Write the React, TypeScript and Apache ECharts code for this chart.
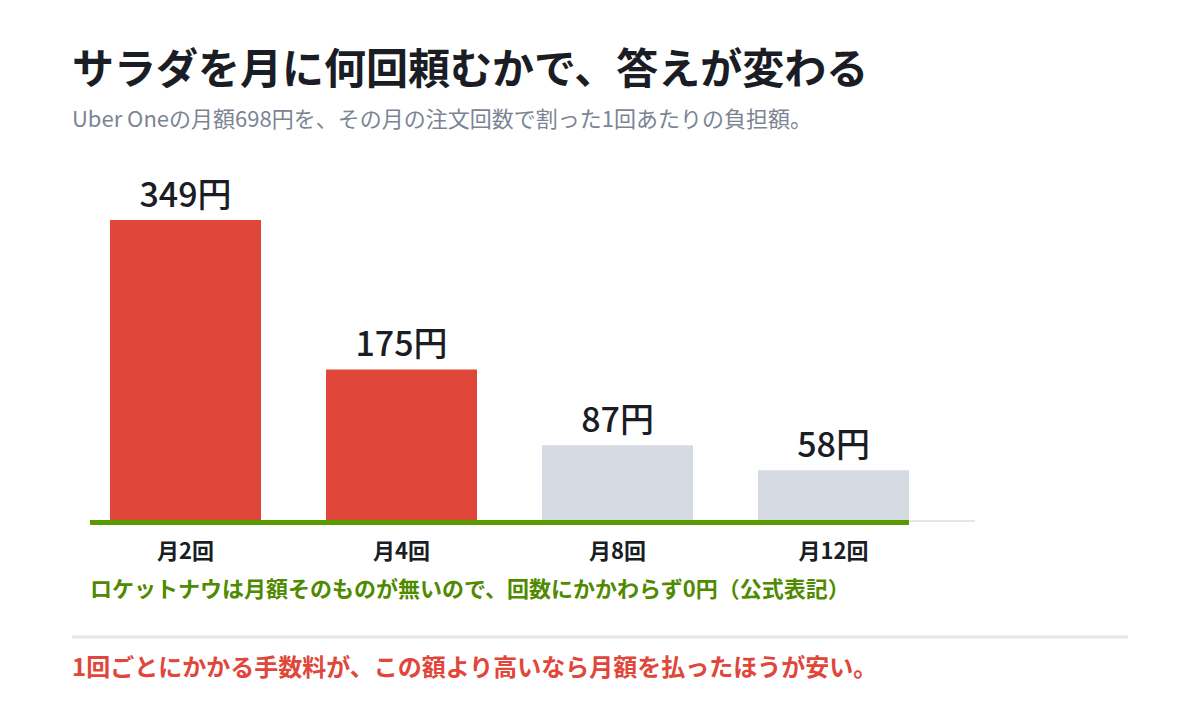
import React, { useEffect, useRef } from "react";
import * as echarts from "echarts";

const categories = ["月2回", "月4回", "月8回", "月12回"];
const values = [349, 175, 87, 58];
const highlighted = [true, true, false, false];
const valueSuffix = "円";

const titleText = "サラダを月に何回頼むかで、答えが変わる";
const subtitleText = "Uber Oneの月額698円を、その月の注文回数で割った1回あたりの負担額。";
const noteText = "ロケットナウは月額そのものが無いので、回数にかかわらず0円（公式表記）";
const footerText = "1回ごとにかかる手数料が、この額より高いなら月額を払ったほうが安い。";

const FONT = "'Noto Sans CJK JP', 'Noto Sans', sans-serif";

export default function App() {
  const ref = useRef<HTMLDivElement>(null);
  useEffect(() => {
    document.body.style.margin = "0";
    if (!ref.current) return;
    const chart = echarts.init(ref.current, null, { renderer: "svg" });
    chart.setOption({
      animation: false,
      backgroundColor: "#ffffff",
      textStyle: { fontFamily: FONT },
      grid: { left: 77.5, width: 864, top: 159, bottom: 200 },
      xAxis: {
        type: "category",
        data: categories,
        axisLine: { show: false },
        axisTick: { show: false },
        axisLabel: {
          color: "#1a1d24",
          fontSize: 22,
          fontWeight: 600,
          margin: 18,
          fontFamily: FONT,
        },
      },
      yAxis: {
        type: "value",
        min: 0,
        max: 420,
        show: false,
        splitLine: { show: false },
      },
      series: [
        {
          type: "bar",
          barWidth: 151,
          data: values.map((v, i) => ({
            value: v,
            itemStyle: { color: highlighted[i] ? "#e0463a" : "#d6dbe3" },
          })),
          label: {
            show: true,
            position: "top",
            distance: 11,
            formatter: (p: any) => `${p.value}${valueSuffix}`,
            color: "#1a1d24",
            fontSize: 34,
            fontWeight: 500,
            fontFamily: FONT,
          },
        },
      ],
      graphic: [
        {
          type: "line",
          z: 10,
          shape: { x1: 90, y1: 521, x2: 975, y2: 521 },
          style: { stroke: "#e3e6eb", lineWidth: 2 },
        },
        {
          type: "line",
          z: 11,
          shape: { x1: 90, y1: 522.5, x2: 909, y2: 522.5 },
          style: { stroke: "#5a9a00", lineWidth: 5 },
        },
        {
          type: "text",
          x: 72,
          y: 65,
          style: {
            text: titleText,
            fontSize: 42,
            fontWeight: 700,
            fill: "#1a1d24",
            fontFamily: FONT,
            verticalAlign: "middle",
          },
        },
        {
          type: "text",
          x: 72,
          y: 117,
          style: {
            text: subtitleText,
            fontSize: 22,
            fontWeight: 400,
            fill: "#7b8494",
            fontFamily: FONT,
            verticalAlign: "middle",
          },
        },
        {
          type: "text",
          x: 90,
          y: 587,
          style: {
            text: noteText,
            fontSize: 22,
            fontWeight: 700,
            fill: "#4f8a00",
            fontFamily: FONT,
            verticalAlign: "middle",
          },
        },
        {
          type: "rect",
          shape: { x: 72, y: 635.5, width: 1056, height: 3 },
          style: { fill: "#e3e6eb" },
        },
        {
          type: "text",
          x: 72,
          y: 665,
          style: {
            text: footerText,
            fontSize: 24,
            fontWeight: 700,
            fill: "#e0463a",
            fontFamily: FONT,
            verticalAlign: "middle",
          },
        },
      ],
    });
    return () => chart.dispose();
  }, []);
  return <div ref={ref} style={{ width: 1200, height: 720 }} />;
}
